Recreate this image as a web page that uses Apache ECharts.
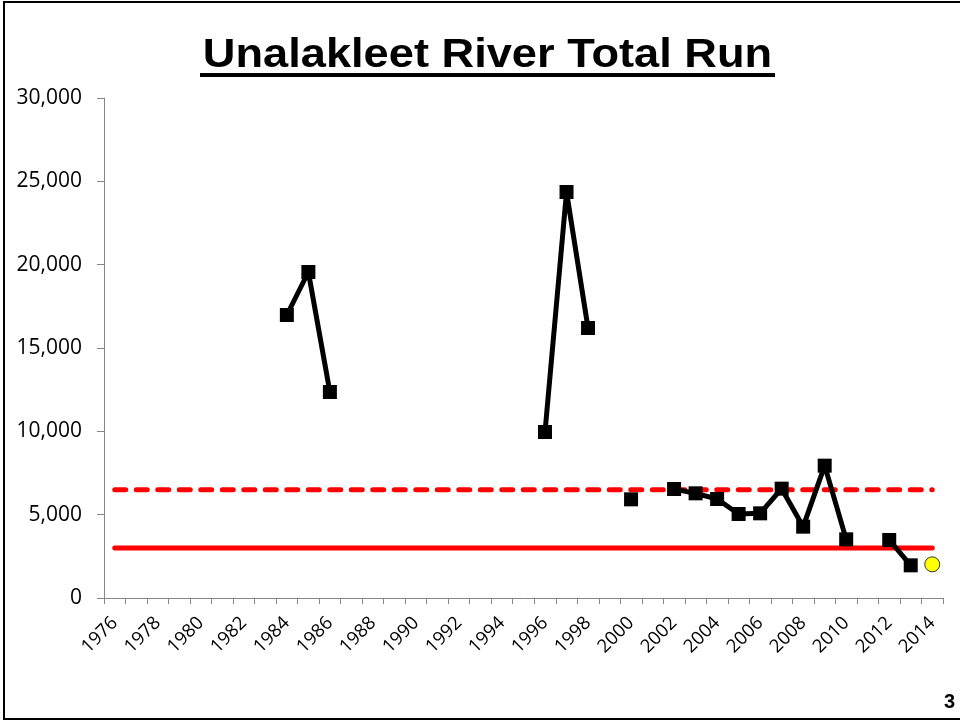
<!DOCTYPE html>
<html>
<head>
<meta charset="utf-8">
<script src="https://cdn.jsdelivr.net/npm/echarts@6/dist/echarts.min.js"></script>
<style>
html,body{margin:0;padding:0;background:#fff;}
#c{width:960px;height:723px;}
</style>
</head>
<body>
<div id="c"></div>
<script>
const years = [];
for (let y = 1976; y <= 2014; y++) years.push(String(y));

// Total run by year (null = no estimate)
const totalRun = {
  1984: 16980, 1985: 19560, 1986: 12360,
  1996: 9960, 1997: 24360, 1998: 16200,
  2000: 5920,
  2002: 6540, 2003: 6280, 2004: 5940, 2005: 5040, 2006: 5080,
  2007: 6560, 2008: 4280, 2009: 7940, 2010: 3520,
  2012: 3480, 2013: 1960
};
const preliminary = { 2014: 2020 };
const upperGoal = 6500;
const lowerGoal = 3000;

const runSeries = years.map(y => (totalRun[y] !== undefined ? totalRun[y] : null));
const prelimSeries = years.map(y => (preliminary[y] !== undefined ? preliminary[y] : null));
const upperSeries = years.map(() => upperGoal);
const lowerSeries = years.map(() => lowerGoal);

const chart = echarts.init(document.getElementById('c'));
chart.setOption({
  animation: false,
  backgroundColor: '#fff',
  graphic: [
    { type: 'rect', shape: { x: 4, y: 2, width: 980, height: 717 }, style: { fill: 'none', stroke: '#000', lineWidth: 2 }, silent: true },
    { type: 'text', x: 487.5, y: 56, scaleX: 1.13, scaleY: 1.02,
      style: { text: 'Unalakleet River Total Run', font: 'bold 40px "Liberation Sans"', fill: '#000', align: 'center', verticalAlign: 'middle' } },
    { type: 'rect', shape: { x: 200, y: 73, width: 575, height: 4 }, style: { fill: '#000' }, silent: true },
    { type: 'text', x: 944, y: 692, style: { text: '3', font: 'bold 20px "Liberation Sans"', fill: '#000' } }
  ],
  grid: { left: 104, right: 17, top: 98, bottom: 125, containLabel: false },
  xAxis: {
    type: 'category', data: years, boundaryGap: true,
    axisLine: { lineStyle: { color: '#868686', width: 1 } },
    axisTick: { show: true, interval: 0, length: 6, lineStyle: { color: '#868686' } },
    axisLabel: { interval: 1, rotate: 45, margin: 22, fontFamily: 'Open Sans', fontSize: 18.5, color: '#000' },
    splitLine: { show: false }
  },
  yAxis: {
    type: 'value', min: 0, max: 30000, interval: 5000,
    axisLine: { show: true, lineStyle: { color: '#868686', width: 1 } },
    axisTick: { show: true, inside: false, length: 7, lineStyle: { color: '#868686' } },
    axisLabel: {
      margin: 22, fontFamily: 'Open Sans', fontSize: 21, color: '#000',
      formatter: v => v.toLocaleString('en-US')
    },
    splitLine: { show: false }
  },
  series: [
    { type: 'line', data: upperSeries, symbol: 'none', lineStyle: { color: '#ff0000', width: 5, type: [11, 10.5], cap: 'round' }, z: 2 },
    { type: 'line', data: lowerSeries, symbol: 'none', lineStyle: { color: '#ff0000', width: 5, cap: 'round' }, z: 2 },
    { type: 'line', data: runSeries, connectNulls: false, showAllSymbol: true, symbol: 'rect', symbolSize: 14,
      itemStyle: { color: '#000' }, lineStyle: { color: '#000', width: 5 }, z: 3 },
    { type: 'line', data: prelimSeries, showAllSymbol: true, symbol: 'circle', symbolSize: 15,
      itemStyle: { color: '#ffff00', borderColor: '#333', borderWidth: 1 }, lineStyle: { width: 0 }, z: 4 }
  ]
});
</script>
</body>
</html>
